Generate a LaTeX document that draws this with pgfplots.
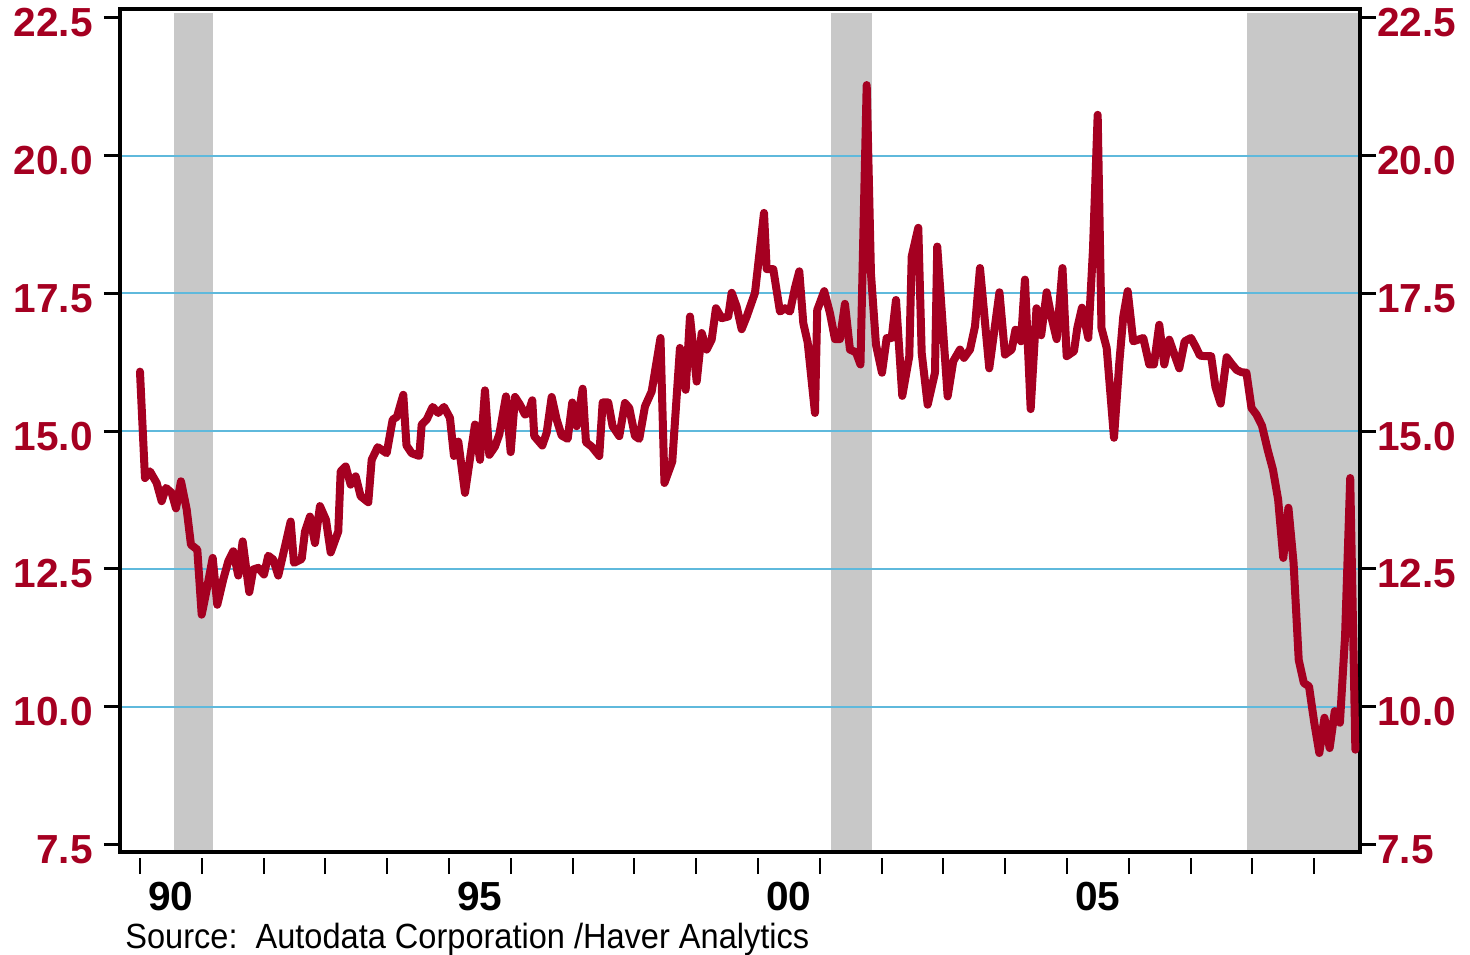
\documentclass[border=0pt]{standalone}
\usepackage{pgfplots}
\pgfplotsset{compat=1.18}
\usepackage{graphicx}
\usepackage{fontspec}
\setmainfont{Liberation Sans}
\definecolor{lineRed}{RGB}{165,0,33}
\definecolor{recGray}{RGB}{200,200,200}
\definecolor{gridTeal}{RGB}{95,185,220}
\pgfplotstableread{
m v
0.00 16.08
0.97 14.15
1.94 14.27
3.24 14.06
4.21 13.73
5.05 13.97
6.16 13.88
6.99 13.60
7.96 14.09
9.07 13.58
9.90 12.94
11.13 12.85
11.98 11.67
12.95 12.12
14.12 12.70
15.01 11.85
16.17 12.31
17.15 12.64
18.12 12.82
19.09 12.38
19.94 13.00
21.22 12.08
22.00 12.49
22.97 12.52
24.08 12.40
24.91 12.74
25.88 12.67
26.85 12.38
28.16 12.91
29.26 13.36
29.90 12.61
31.40 12.68
32.04 13.18
33.01 13.45
33.98 12.97
34.95 13.64
36.12 13.39
37.03 12.80
38.50 13.18
38.97 14.27
39.94 14.36
40.91 14.03
41.88 14.18
42.85 13.82
44.33 13.71
44.99 14.48
46.16 14.71
47.90 14.60
49.07 15.21
49.90 15.26
51.13 15.66
51.75 14.74
52.76 14.60
54.23 14.55
54.70 15.12
55.67 15.21
56.83 15.44
57.92 15.33
59.03 15.44
60.19 15.24
60.97 14.55
61.81 14.81
63.11 13.88
65.05 15.12
66.02 14.48
66.99 15.74
67.83 14.57
68.93 14.72
69.77 14.94
71.07 15.63
71.98 14.62
72.82 15.62
73.79 15.48
74.76 15.30
75.40 15.33
76.17 15.56
76.56 14.91
78.12 14.74
78.97 14.97
79.94 15.62
80.91 15.21
81.88 14.92
83.05 14.86
83.94 15.52
84.80 15.09
85.96 15.77
86.60 14.80
87.71 14.72
89.18 14.55
89.84 15.52
90.93 15.52
91.77 15.09
93.07 14.91
94.17 15.51
95.01 15.42
96.12 14.91
96.95 14.86
98.06 15.45
99.36 15.72
101.07 16.69
101.84 14.06
103.36 14.45
104.85 16.51
105.96 15.75
106.80 17.08
108.10 15.90
109.07 16.78
110.04 16.48
111.01 16.66
111.84 17.23
112.95 17.05
114.23 17.08
114.89 17.51
115.86 17.26
116.83 16.85
117.81 17.08
119.42 17.51
120.25 18.20
121.17 18.96
121.69 17.94
122.97 17.94
124.27 17.17
125.24 17.23
126.21 17.17
127.18 17.60
128.02 17.90
128.80 16.96
129.65 16.61
131.07 15.33
131.51 17.20
132.87 17.54
133.98 17.14
134.95 16.67
135.92 16.67
136.89 17.31
137.86 16.48
139.03 16.43
139.90 16.21
141.11 21.28
141.94 17.86
142.91 16.57
144.08 16.06
144.99 16.69
145.96 16.69
146.80 17.38
148.02 15.64
149.38 16.36
149.85 18.17
151.13 18.69
151.79 16.42
152.95 15.48
154.37 16.06
154.81 18.35
156.83 15.63
157.92 16.27
159.22 16.48
160.00 16.33
161.17 16.48
162.14 16.90
163.11 17.96
164.91 16.14
166.89 17.52
167.96 16.39
169.26 16.48
170.00 16.84
171.07 16.63
171.84 17.75
172.95 15.40
174.08 17.23
174.99 16.74
176.06 17.52
177.03 17.05
178.00 16.67
179.13 17.96
179.94 16.36
181.36 16.45
182.00 16.87
182.91 17.24
184.14 16.69
185.05 18.30
185.96 20.74
186.70 16.87
187.71 16.51
189.13 14.88
190.16 16.24
190.93 17.08
191.79 17.54
192.87 16.63
193.84 16.66
194.82 16.69
195.98 16.21
196.89 16.21
197.92 16.93
198.89 16.21
199.86 16.66
200.83 16.40
201.81 16.14
202.85 16.63
204.08 16.69
204.95 16.54
205.83 16.37
206.89 16.36
208.00 16.36
208.83 15.80
209.84 15.50
211.01 16.34
211.98 16.22
212.95 16.11
213.88 16.07
214.85 16.06
215.83 15.42
216.80 15.30
217.86 15.10
219 14.65
220 14.30
221 13.76
222 12.70
223 13.61
224 12.61
225 10.85
226 10.43
227 10.37
228 9.72
229 9.16
230 9.80
231 9.25
232 9.92
233 9.71
234 11.28
235 14.15
236 9.22
}\salesdata
\newcommand{\lblfont}{\fontsize{20.3bp}{21bp}\selectfont\bfseries}
\begin{document}
\begin{tikzpicture}
\begin{axis}[
  at={(0,0)}, anchor=south west, scale only axis,
  width=620bp, height=421.5bp,
  xmin=-3.88, xmax=236.9, ymin=7.364, ymax=22.66,
  set layers=standard,
  axis line style={line width=2bp, black},
  xtick=\empty,
  ytick={7.5,10,12.5,15,17.5,20,22.5},
  yticklabels={7.5,10.0,12.5,15.0,17.5,20.0,22.5},
  ytick pos=left, ytick align=outside,
  major tick length=8bp,
  ytick style={line width=1.5bp, black},
  yticklabel style={font=\lblfont, text=lineRed, anchor=east, inner sep=0pt, xshift=-5.5bp, yshift=-2.5bp},
  extra y ticks={10,12.5,15,17.5,20},
  extra y tick labels={},
  extra y tick style={grid=major, major tick length=0pt},
  grid style={gridTeal, solid, line width=1bp},
]
\addplot[fill=recGray, draw=none, on layer=axis background] coordinates {(6.6,7.364) (6.6,22.59) (14.17,22.59) (14.17,7.364)} -- cycle;
\addplot[fill=recGray, draw=none, on layer=axis background] coordinates {(134.2,7.364) (134.2,22.59) (142.1,22.59) (142.1,7.364)} -- cycle;
\addplot[fill=recGray, draw=none, on layer=axis background] coordinates {(215.0,7.364) (215.0,22.59) (236.9,22.59) (236.9,7.364)} -- cycle;
\addplot[lineRed, line width=4bp, line join=round, line cap=round] table[x=m, y=v] {\salesdata};
\end{axis}
\begin{axis}[
  at={(0,0)}, anchor=south west, scale only axis,
  width=620bp, height=421.5bp,
  xmin=-3.88, xmax=236.9, ymin=7.364, ymax=22.66,
  axis x line=bottom, axis y line=right,
  axis line style={draw=none, -},
  axis x line shift=3bp,
  xtick={0,12,...,228}, xticklabels={},
  xtick align=outside, ytick align=outside,
  major tick length=8bp,
  xtick style={line width=1bp, black},
  ytick style={line width=1.5bp, black},
  extra x ticks={6,66,126,186},
  extra x tick labels={90,95,00,05},
  extra x tick style={major tick length=0pt, xticklabel style={font=\lblfont, text=black, anchor=base, inner sep=0pt, yshift=-26bp}},
  ytick={7.5,10,12.5,15,17.5,20,22.5},
  yticklabels={7.5,10.0,12.5,15.0,17.5,20.0,22.5},
  yticklabel style={font=\lblfont, text=lineRed, anchor=west, inner sep=0pt, xshift=0.5bp, yshift=-2.5bp},
]
\addplot[draw=none] coordinates {(0,10)};
\end{axis}
\node[anchor=base west, inner sep=0pt] at (2.5bp,-48bp) {\scalebox{0.93}[1]{\fontsize{17.5bp}{18bp}\selectfont Source:\ \ Autodata Corporation /Haver Analytics}};
\pgfresetboundingbox
\path[use as bounding box] (-60bp,-51.5bp) rectangle (675bp,426bp);
\end{tikzpicture}
\end{document}
